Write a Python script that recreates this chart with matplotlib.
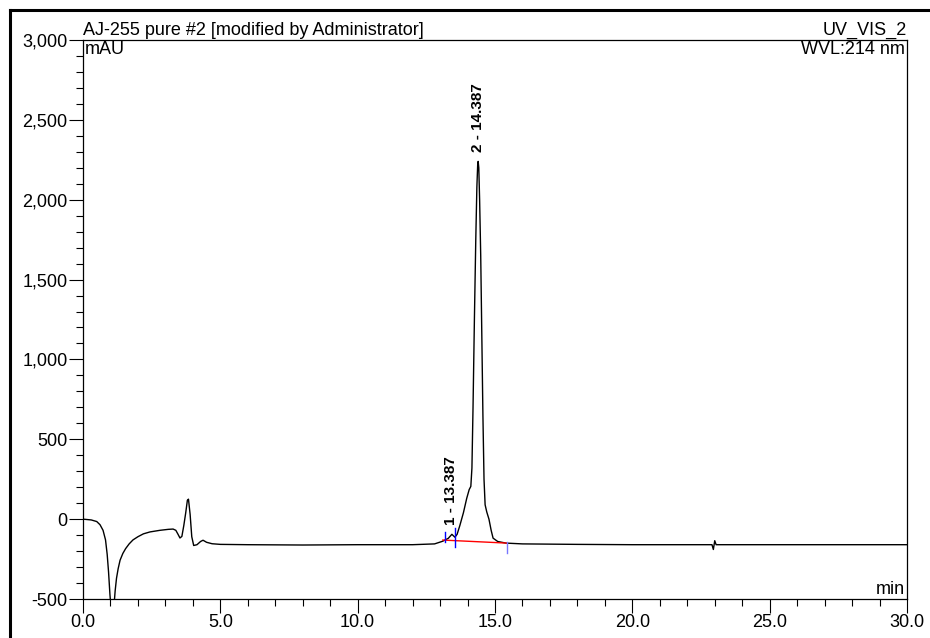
import matplotlib
matplotlib.use('Agg')
import matplotlib.pyplot as plt
from matplotlib.ticker import MultipleLocator, FuncFormatter
from matplotlib.lines import Line2D

plt.rcParams['font.family'] = ['Liberation Sans', 'DejaVu Sans']

# trace (min, mAU)
t = [0.0, 0.3, 0.5, 0.62, 0.73, 0.82, 0.88, 0.93, 0.98, 1.03, 1.08, 1.13, 1.17, 1.22,
     1.28, 1.35, 1.45, 1.55, 1.68, 1.82, 2.0, 2.2, 2.44, 2.8, 3.1, 3.28, 3.38, 3.46,
     3.53, 3.6, 3.67, 3.74, 3.8, 3.84, 3.9, 3.96, 4.03, 4.15, 4.28, 4.37, 4.5, 4.7,
     5.0, 6.0, 8.0, 10.0, 12.0, 12.8, 13.1, 13.3, 13.43, 13.54, 13.62, 13.72, 13.85,
     13.97, 14.06, 14.12, 14.16, 14.2, 14.25, 14.3, 14.34, 14.37, 14.387, 14.41,
     14.44, 14.48, 14.52, 14.56, 14.6, 14.64, 14.7, 14.78, 14.86, 14.93, 15.1, 15.4,
     16.0, 18.0, 20.0, 22.9, 22.95, 23.0, 23.05, 23.1, 25.0, 30.0]
mau = [0, -5, -15, -35, -70, -130, -220, -330, -470, -580, -620, -540, -450, -370,
       -310, -257, -215, -185, -155, -130, -110, -92, -80, -70, -64, -62, -70, -95,
       -118, -108, -40, 40, 118, 125, 30, -110, -165, -160, -140, -132, -145, -154,
       -158, -160, -162, -160, -160, -155, -138, -120, -95, -113, -95, -40, 40,
       130, 185, 205, 320, 700, 1250, 1750, 2080, 2220, 2240, 2200,
       2000, 1650, 1150, 650, 250, 90, 45, 0, -70, -119, -140, -150,
       -155, -158, -160, -160, -190, -135, -160, -160, -160, -160]

base_t = [13.1, 15.43]
base_v = [-131, -150]
peak_t = [13.387, 14.387]
peak_v = [-95, 2240]
peak_lbl = ['1 - 13.387', '2 - 14.387']

fig = plt.figure(figsize=(9.3, 6.38), dpi=100)
ax = fig.add_axes([83/930, 39/638, 824/930, 559/638])

ax.plot(t, mau, color='black', lw=1.0)
ax.plot(base_t, base_v, color='red', lw=1.0)
# integration delimiters
ax.plot([13.18, 13.18], [-80, -145], color='blue', lw=1.0)
ax.plot([13.54, 13.54], [-55, -175], color='blue', lw=1.0)
ax.plot([15.43, 15.43], [-140, -210], color='#7777ff', lw=1.0)

for x, v, s in zip(peak_t, peak_v, peak_lbl):
    ax.annotate(s, (x, v), xytext=(0, 7), textcoords='offset points', rotation=90,
                ha='center', va='bottom', fontsize=11, fontweight='bold')

ax.set_xlim(0, 30)
ax.set_ylim(-500, 3000)
ax.xaxis.set_major_locator(MultipleLocator(5))
ax.xaxis.set_minor_locator(MultipleLocator(1))
ax.yaxis.set_major_locator(MultipleLocator(500))
ax.yaxis.set_minor_locator(MultipleLocator(100))
ax.xaxis.set_major_formatter(FuncFormatter(lambda v, p: f'{v:.1f}'))
ax.yaxis.set_major_formatter(FuncFormatter(lambda v, p: f'{v:,.0f}'))
ax.tick_params(which='major', length=10, width=0.8, labelsize=13, pad=1)
ax.tick_params(which='minor', length=5, width=0.8)
for sp in ax.spines.values():
    sp.set_linewidth(0.9)

ax.text(0, 1.002, 'AJ-255 pure #2 [modified by Administrator]', transform=ax.transAxes,
        ha='left', va='bottom', fontsize=13)
ax.text(1, 1.002, 'UV_VIS_2', transform=ax.transAxes, ha='right', va='bottom', fontsize=13)
ax.text(0.002, 0.998, 'mAU', transform=ax.transAxes, ha='left', va='top', fontsize=13)
ax.text(0.998, 0.998, 'WVL:214 nm', transform=ax.transAxes, ha='right', va='top', fontsize=13)
ax.text(0.998, 0.002, 'min', transform=ax.transAxes, ha='right', va='bottom', fontsize=13)

# outer frame (top and left edges)
fig.add_artist(Line2D([10/930, 1], [1 - 10/638, 1 - 10/638], color='black', lw=2.2,
                      transform=fig.transFigure))
fig.add_artist(Line2D([10/930, 10/930], [0, 1 - 10/638], color='black', lw=2.2,
                      transform=fig.transFigure))

fig.savefig('out.png', dpi=100)
